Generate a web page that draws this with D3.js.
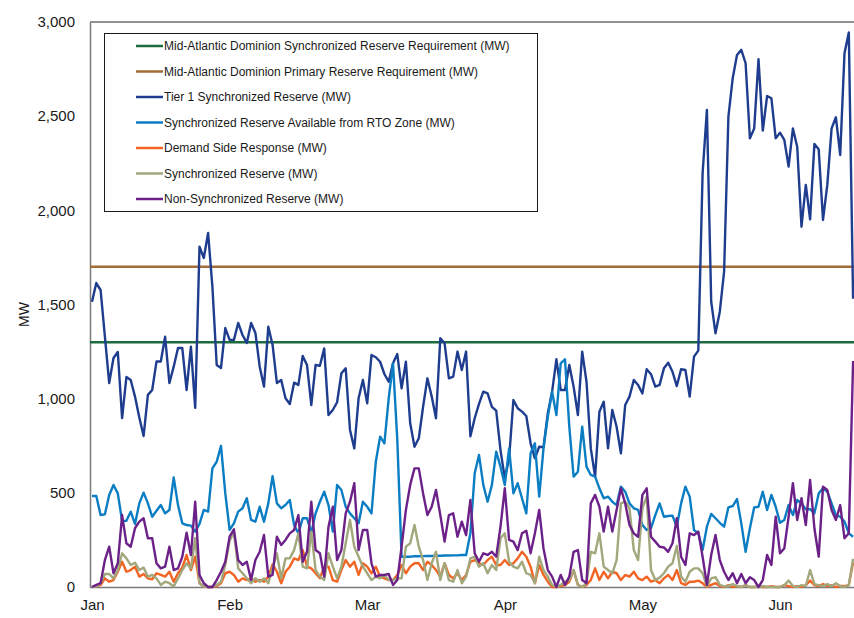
<!DOCTYPE html>
<html>
<head>
<meta charset="utf-8">
<script src="https://cdn.jsdelivr.net/npm/d3@7"></script>
<style>
  html, body { margin: 0; padding: 0; background: #ffffff; }
  svg { display: block; font-family: "Liberation Sans", Arial, sans-serif; }
</style>
</head>
<body>
<svg id="chart" width="854" height="618"></svg>
<script>
// Daily reserve values (MW), one entry per day starting January 1
const tier1 = [1515,1614,1577,1330,1083,1216,1248,897,1115,1099,
  1011,900,802,1020,1046,1197,1197,1329,1083,1170,
  1269,1269,1046,1276,951,1807,1747,1880,1595,1179,
  1163,1375,1312,1312,1402,1338,1296,1402,1349,1170,
  1064,1382,1285,1083,1099,1002,972,1085,1073,1227,
  1179,966,1179,1175,1267,913,940,981,1135,1161,
  834,736,1002,1099,975,1232,1220,1196,1131,1090,
  1188,1237,1055,1196,869,745,790,957,1108,1011,
  896,1321,1294,1108,1117,1250,1152,1250,800,896,
  972,1037,1028,957,936,727,577,683,993,949,
  931,908,763,683,745,742,922,1037,1209,1046,
  1046,1179,1064,913,1250,1090,736,586,931,984,
  736,940,851,710,966,1011,1099,1073,1028,1156,
  1130,1064,1073,1161,1191,1143,1067,1156,1152,1011,
  1223,1255,2197,2533,1515,1347,1462,1674,2497,2701,
  2825,2852,2781,2382,2435,2802,2423,2607,2595,2382,
  2412,2374,2232,2435,2338,1913,2135,1952,2352,2324,
  1949,2135,2435,2494,2294,2834,2944,1530];

const rtoAvailable = [483,483,382,386,489,542,497,350,352,400,
  335,444,501,444,373,405,435,391,409,582,
  435,338,329,326,294,335,409,400,630,665,
  749,497,303,338,400,418,471,356,347,426,
  347,444,589,444,418,435,462,329,285,365,
  365,288,391,453,506,435,294,542,515,426,
  391,365,338,453,426,391,665,798,763,1002,
  1188,781,161,161,161,163,163,164,165,165,
  166,166,167,167,168,168,170,170,285,604,
  701,542,453,542,719,639,542,736,497,551,
  471,391,710,763,480,736,904,1037,913,1188,
  1209,851,586,612,851,639,595,586,524,471,
  480,453,435,533,506,444,418,409,329,303,
  312,382,444,373,377,379,320,444,533,480,
  303,285,196,320,388,365,341,320,423,430,
  467,338,187,312,423,426,506,409,489,426,
  341,356,435,382,462,444,413,413,391,497,
  524,506,444,382,373,347,285,267];

const demandSide = [0,5,10,46,28,37,81,134,81,90,
  108,55,69,46,41,73,64,55,81,28,
  73,104,170,90,161,20,3,0,0,5,
  20,73,81,64,28,46,37,46,28,37,
  28,55,120,81,20,81,108,152,143,196,
  108,99,73,46,108,108,37,28,90,143,
  108,134,64,126,108,73,108,55,46,37,
  37,64,117,73,108,126,126,90,134,117,
  90,55,126,64,46,73,37,64,134,143,
  126,117,143,161,117,117,143,117,126,152,
  187,161,108,20,117,64,28,0,0,5,
  10,28,90,11,0,11,37,99,37,81,
  46,81,73,37,64,55,81,46,37,55,
  28,37,20,46,64,37,90,20,11,28,
  28,34,20,0,11,20,5,0,10,0,
  5,0,10,0,0,5,0,0,5,0,
  0,10,5,0,5,0,10,34,10,5,
  15,5,10,0,5,5,10,130];

const syncReserve = [0,3,20,69,69,46,90,179,152,117,
  129,90,103,55,64,46,11,28,20,3,
  46,90,126,99,259,20,3,0,0,11,
  28,117,246,290,99,73,46,20,46,28,
  46,20,100,179,46,152,152,196,285,108,
  99,294,90,55,37,179,108,46,108,232,
  356,214,161,108,73,37,55,46,64,37,
  37,46,46,214,232,329,214,143,37,126,
  187,37,126,37,28,90,20,55,152,161,
  108,126,73,117,90,259,285,134,108,99,
  134,73,64,20,161,90,55,11,0,11,
  28,37,90,11,0,20,187,179,285,108,
  90,73,143,444,453,418,196,143,420,480,
  90,37,50,73,108,126,218,55,28,81,
  99,99,73,3,46,52,11,3,5,15,
  5,0,10,0,0,0,5,0,0,0,
  0,10,34,5,0,10,5,90,15,10,
  5,15,5,20,5,0,10,150];

const nonSyncReserve = [0,11,20,143,214,73,126,382,232,214,
  312,347,365,259,259,126,99,108,214,90,
  99,161,288,170,453,64,20,0,0,37,
  81,134,267,306,143,117,134,37,143,187,
  276,55,64,267,223,250,285,303,382,134,
  187,453,196,179,55,320,426,143,196,391,
  453,551,196,303,303,126,55,64,64,69,
  11,37,214,409,542,630,630,497,382,426,
  515,382,241,382,391,267,347,276,462,179,
  134,179,170,187,161,320,524,250,241,196,
  285,299,179,285,409,205,90,55,0,64,
  11,55,187,196,37,20,444,489,426,294,
  426,294,409,524,444,329,285,267,489,524,
  267,241,214,210,187,232,365,161,117,285,
  276,294,161,11,170,276,143,81,37,73,
  20,69,20,52,37,0,37,170,117,373,
  179,205,373,551,356,471,329,568,312,161,
  533,515,409,356,435,259,285,1200];

// Reserve requirements (MW), constant over the period
const syncRequirement = 1300;
const primaryRequirement = 1700;

// Axis labels
const monthLabels = ["Jan", "Feb", "Mar", "Apr", "May", "Jun"];
const monthTickDays = [0, 32, 64, 96, 128, 160];
const yTicks = [0, 500, 1000, 1500, 2000, 2500, 3000];

const seriesDefs = [
  { name: "Mid-Atlantic Dominion Synchronized Reserve Requirement (MW)", color: "#1d6b3e", level: syncRequirement },
  { name: "Mid-Atlantic Dominion Primary Reserve Requirement (MW)", color: "#a36d3a", level: primaryRequirement },
  { name: "Tier 1 Synchronized Reserve (MW)", color: "#1f3d8e", values: tier1 },
  { name: "Synchronized Reserve Available from RTO Zone (MW)", color: "#0b7dc3", values: rtoAvailable },
  { name: "Demand Side Response (MW)", color: "#f26424", values: demandSide },
  { name: "Synchronized Reserve (MW)", color: "#a2a77c", values: syncReserve },
  { name: "Non-Synchronized Reserve (MW)", color: "#6b2188", values: nonSyncReserve }
];

const svg = d3.select("#chart");
const plot = { left: 90, right: 854, top: 22, bottom: 587 };

const nDays = tier1.length;
const x = d3.scaleLinear().domain([0, nDays - 1]).range([92, 92 + (nDays - 1) * 4.3]);
const y = d3.scaleLinear().domain([0, 3000]).range([plot.bottom, plot.top]);

svg.append("defs").append("clipPath").attr("id", "plotClip")
  .append("rect").attr("x", plot.left).attr("y", plot.top - 5)
  .attr("width", plot.right - plot.left).attr("height", plot.bottom - plot.top + 10);

// Frame: top border, left and bottom axes
svg.append("line").attr("x1", plot.left).attr("x2", plot.right)
  .attr("y1", plot.top).attr("y2", plot.top)
  .attr("stroke", "#6e6e6e").attr("stroke-width", 1.5);

// Y axis
const yAxis = svg.append("g").attr("transform", `translate(${plot.left},0)`)
  .call(d3.axisLeft(y).tickValues(yTicks).tickFormat(d3.format(",")).tickSize(0).tickPadding(15));
yAxis.select(".domain").attr("stroke", "#7a7a7a").attr("stroke-width", 1.5);
yAxis.selectAll("text").attr("font-size", 15).attr("fill", "#1a1a1a")
  .attr("font-family", "'Liberation Sans', Arial, sans-serif");

// X axis
const xAxis = svg.append("g").attr("transform", `translate(0,${plot.bottom})`)
  .call(d3.axisBottom(x).tickValues(monthTickDays).tickFormat((d, i) => monthLabels[i]).tickSize(0).tickPadding(12));
xAxis.select(".domain").attr("d", `M${plot.left},0.5H${plot.right}`)
  .attr("stroke", "#7a7a7a").attr("stroke-width", 1.5);
xAxis.selectAll("text").attr("font-size", 15).attr("fill", "#1a1a1a")
  .attr("font-family", "'Liberation Sans', Arial, sans-serif");

// Y axis title
svg.append("text")
  .attr("transform", `translate(29,${(plot.top + plot.bottom) / 2 + 10}) rotate(-90)`)
  .attr("text-anchor", "middle").attr("font-size", 14).attr("fill", "#1a1a1a")
  .text("MW");

// Series
const g = svg.append("g").attr("clip-path", "url(#plotClip)");
const line = d3.line().x((d, i) => x(i)).y(d => y(d));

seriesDefs.forEach(s => {
  if (s.level !== undefined) {
    g.append("line")
      .attr("x1", plot.left).attr("x2", plot.right)
      .attr("y1", y(s.level)).attr("y2", y(s.level))
      .attr("stroke", s.color).attr("stroke-width", 2.5);
  }
});
seriesDefs.filter(s => s.values).forEach(s => {
  g.append("path").datum(s.values)
    .attr("d", line)
    .attr("fill", "none")
    .attr("stroke", s.color)
    .attr("stroke-width", 2.4)
    .attr("stroke-linejoin", "round");
});

// Legend
const legend = svg.append("g");
legend.append("rect")
  .attr("x", 104.5).attr("y", 33.5).attr("width", 433).attr("height", 178)
  .attr("fill", "#ffffff").attr("stroke", "#1a1a1a").attr("stroke-width", 1);
seriesDefs.forEach((s, i) => {
  const yy = 46 + i * 25.5;
  legend.append("line").attr("x1", 136).attr("x2", 163).attr("y1", yy).attr("y2", yy)
    .attr("stroke", s.color).attr("stroke-width", 2.5);
  legend.append("text").attr("x", 164).attr("y", yy).attr("dy", "0.35em")
    .attr("font-size", 12).attr("fill", "#1a1a1a")
    .text(s.name);
});
</script>
</body>
</html>
